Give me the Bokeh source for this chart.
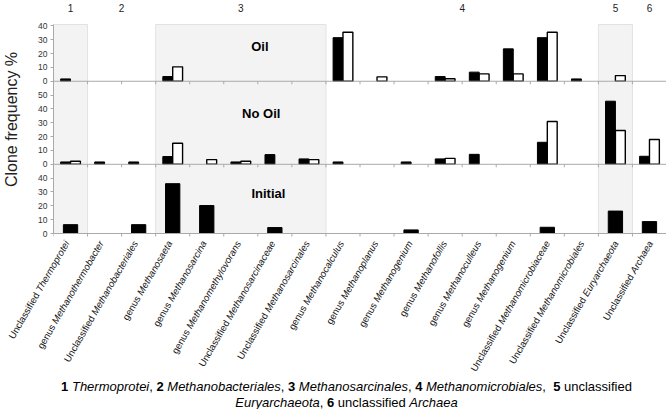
import math
from bokeh.plotting import figure
from bokeh.layouts import column
from bokeh.models import Range1d, FixedTicker, ColumnDataSource, Label, LabelSet, Span
from bokeh.core.properties import value
from bokeh.embed import file_html
from bokeh.resources import INLINE

# ---------------- data ----------------
categories = [
    "Unclassified Thermoprotei", "genus Methanothermobacter", "Unclassified Methanobacteriales",
    "genus Methanosaeta", "genus Methanosarcina", "genus Methanomethylovorans",
    "Unclassified Methanosarcinaceae", "Unclassified Methanosarcinales",
    "genus Methanocalculus", "genus Methanoplanus", "genus Methanogenium", "genus Methanofollis",
    "genus Methanoculleus", "genus Methanogenium", "Unclassified Methanomicrobiaceae",
    "Unclassified Methanomicrobiales", "Unclassified Euryarchaeota", "Unclassified Archaea",
]
oil_black = [1.7, 0, 0, 3.4, 0, 0, 0, 0, 31.5, 0, 0, 3.4, 6.6, 23.4, 31.5, 1.7, 0, 0]
oil_white = [0, 0, 0, 10.4, 0, 0, 0, 0, 35.4, 3.2, 0, 1.8, 5.3, 5.3, 35.4, 0, 4.1, 0]
nooil_black = [1.7, 1.7, 1.7, 5.6, 0, 1.7, 7.0, 3.9, 1.7, 0, 1.7, 3.9, 7.2, 0, 15.9, 0, 45.6, 5.8]
nooil_white = [2.2, 0, 0, 15.2, 3.4, 2.2, 0, 3.4, 0, 0, 0, 4.3, 0, 0, 30.9, 0, 24.4, 17.9]
initial = [6.4, 0, 6.4, 36.0, 20.2, 0, 4.3, 0, 0, 0, 2.6, 0, 0, 0, 4.5, 0, 16.2, 8.6]

group_labels = ["1", "2", "3", "4", "5", "6"]
group_start = [0, 1, 3, 8, 16, 17]
group_end = [1, 3, 8, 16, 17, 18]
shaded_groups = ["1", "3", "5"]

panel_names = ["Oil", "No Oil", "Initial"]
oil_ticks = [0, 10, 20, 30, 40]
nooil_ticks = [0, 10, 20, 30, 40, 50]
initial_ticks = [0, 10, 20, 30, 40]
y_title = "Clone frequency %"

caption_line1 = [("1", "bold"), (" ", "normal"), ("Thermoprotei", "italic"), (", ", "normal"),
                 ("2", "bold"), (" ", "normal"), ("Methanobacteriales", "italic"), (", ", "normal"),
                 ("3", "bold"), (" ", "normal"), ("Methanosarcinales", "italic"), (", ", "normal"),
                 ("4", "bold"), (" ", "normal"), ("Methanomicrobiales", "italic"), (",  ", "normal"),
                 ("5", "bold"), (" unclassified", "normal")]
caption_line2 = [("Euryarchaeota", "italic"), (", ", "normal"), ("6", "bold"),
                 (" unclassified ", "normal"), ("Archaea", "italic")]

# ---------------- layout / style ----------------
FONT = "Liberation Sans"
AX = "#a9a9a9"
N = len(categories)
WIDTH, HEIGHT = 666, 409
LEFT = 48
ZERO_PX = 233          # pixel row of the lowest panel's baseline
SPLIT_PX = 238         # where the label area starts
PXU = 1.384            # pixels per percentage unit
BASE = {"Initial": 0.0, "No Oil": 50.0, "Oil": 110.0}
PANEL_TOP = 151.0
PXX = (WIDTH - LEFT) / N

# Helvetica / Arial advance widths (per 1000 em)
W = {' ': 278, ',': 278, '.': 278, '%': 889}
W.update({d: 556 for d in "0123456789"})
W.update(dict(zip("ABCDEFGHIJKLMNOPQRSTUVWXYZ",
                  [667, 667, 722, 722, 667, 611, 778, 722, 278, 500, 667, 556, 833, 722, 778, 667,
                   778, 722, 667, 611, 722, 667, 944, 667, 667, 611])))
W.update(dict(zip("abcdefghijklmnopqrstuvwxyz",
                  [556, 556, 500, 556, 556, 278, 556, 556, 222, 222, 500, 222, 833, 556, 556, 556,
                   556, 333, 500, 278, 556, 500, 722, 500, 500, 500])))


def tw(s, fs):
    return sum(W.get(c, 556) for c in s) * fs / 1000.0


def clean(fig):
    fig.outline_line_color = None
    fig.xgrid.grid_line_color = None
    fig.ygrid.grid_line_color = None
    fig.background_fill_color = "white"
    fig.border_fill_color = "white"


p = figure(width=WIDTH, height=SPLIT_PX, x_range=Range1d(0, N),
           y_range=Range1d(-(SPLIT_PX - ZERO_PX) / PXU, ZERO_PX / PXU),
           output_backend="svg", toolbar_location=None, title=None, x_axis_location=None,
           min_border_left=LEFT, min_border_right=0, min_border_top=0, min_border_bottom=0,
           frame_align=False)
clean(p)

# shaded group regions
sl = [s for g, s in zip(group_labels, group_start) if g in shaded_groups]
sr = [e for g, e in zip(group_labels, group_end) if g in shaded_groups]
p.quad(left=sl, right=sr, bottom=0, top=PANEL_TOP, fill_color="#f3f3f3", line_color="#e2e2e2",
       line_width=1)

# bars
BW = 0.29
IW = 0.42


def bars(vals, base, offset, width, fill):
    xs, tops, bots = [], [], []
    for i, v in enumerate(vals):
        if v > 0:
            xs.append(i + 0.5 + offset)
            tops.append(base + v)
            bots.append(base)
    src = ColumnDataSource(dict(x=xs, top=tops, bottom=bots))
    p.vbar(x="x", top="top", bottom="bottom", width=width, source=src,
           fill_color=fill, line_color="black", line_width=1.4 if fill == "white" else 1)


bars(oil_black, BASE["Oil"], -BW / 2, BW, "black")
bars(oil_white, BASE["Oil"], BW / 2, BW, "white")
bars(nooil_black, BASE["No Oil"], -BW / 2, BW, "black")
bars(nooil_white, BASE["No Oil"], BW / 2, BW, "white")
bars(initial, BASE["Initial"], 0, IW, "black")

# category axes of the three panels (baseline + boundary ticks)
for name in ("Initial", "No Oil", "Oil"):
    b = BASE[name]
    p.add_layout(Span(location=b, dimension="width", line_color=AX, line_width=1))
    p.segment(x0=list(range(N + 1)), x1=list(range(N + 1)), y0=[b] * (N + 1),
              y1=[b - 3 / PXU] * (N + 1), line_color=AX, line_width=1)

# y axis
yt, overrides = [], {}
for name, ticks in (("Initial", initial_ticks), ("No Oil", nooil_ticks), ("Oil", oil_ticks)):
    for t in ticks:
        yt.append(BASE[name] + t)
        overrides[BASE[name] + t] = str(t)
yax = p.yaxis[0]
yax.ticker = FixedTicker(ticks=yt, minor_ticks=[])
yax.major_label_overrides = overrides
yax.bounds = (0, PANEL_TOP)
yax.axis_line_color = AX
yax.major_tick_line_color = AX
yax.major_tick_out = 3
yax.major_tick_in = 0
yax.minor_tick_line_color = None
yax.major_label_text_font = FONT
yax.major_label_text_font_size = "8.5px"
yax.major_label_text_color = "#333333"
yax.major_label_standoff = 3
yax.axis_label = y_title
yax.axis_label_text_font = FONT
yax.axis_label_text_font_size = "16px"
yax.axis_label_text_font_style = "normal"
yax.axis_label_text_color = "#222222"
yax.axis_label_standoff = 15

# panel names
panel_pos = {"Oil": (6.06, 135.1), "No Oil": (6.10, 86.7), "Initial": (6.31, 28.9)}
for name in panel_names:
    x, y = panel_pos[name]
    p.add_layout(Label(x=x, y=y, text=name, text_font=FONT, text_font_style="bold",
                       text_font_size="13px", text_align="center", text_baseline="middle",
                       text_color="black"))

# group numbers on top
gsrc = ColumnDataSource(dict(x=[(s + e) / 2 for s, e in zip(group_start, group_end)],
                             y=[PANEL_TOP] * len(group_labels), text=group_labels))
p.add_layout(LabelSet(x="x", y="y", text="text", source=gsrc, y_offset=17,
                      text_font=value(FONT), text_font_size=value("10px"),
                      text_align="center", text_baseline="middle",
                      text_color="#222222"))

# ---------------- label area (same data coordinates, full width) ----------------
q = figure(width=WIDTH, height=HEIGHT - SPLIT_PX, x_range=Range1d(-LEFT / PXX, N),
           y_range=Range1d(-(HEIGHT - ZERO_PX) / PXU, -(SPLIT_PX - ZERO_PX) / PXU),
           output_backend="svg", toolbar_location=None, title=None,
           x_axis_location=None, y_axis_location=None,
           min_border_left=0, min_border_right=0, min_border_top=0, min_border_bottom=0,
           frame_align=False)
clean(q)

# category labels (roman prefix + italic name), rotated 60 degrees
FS = 9.6
ang = math.pi / 3
rom, ita = zip(*[c.split(" ", 1) for c in categories])
D0 = 8
isrc = ColumnDataSource(dict(x=[i + 0.5 for i in range(N)], y=[0] * N, text=list(ita),
                             dx=[1] * N, dy=[-D0] * N))
L = [tw(t, FS) + tw(" ", FS) for t in ita]
rsrc = ColumnDataSource(dict(x=[i + 0.5 for i in range(N)], y=[0] * N, text=list(rom),
                             dx=[1 - l * math.cos(ang) for l in L],
                             dy=[-D0 - l * math.sin(ang) for l in L]))
for src, style in ((isrc, "italic"), (rsrc, "normal")):
    q.add_layout(LabelSet(x="x", y="y", text="text", source=src, x_offset="dx", y_offset="dy",
                          angle=ang, text_font=value(FONT), text_font_size=value(f"{FS}px"),
                          text_font_style=value(style), text_align="right",
                          text_baseline="middle", text_color="#111111"))

# caption
CFS = 13
CAP_CX = 346 - LEFT
for line, yoff in ((caption_line1, -(386 - ZERO_PX)), (caption_line2, -(402 - ZERO_PX))):
    total = sum(tw(s, CFS) for s, _ in line)
    cur = CAP_CX - total / 2
    for seg, style in line:
        lead = len(seg) - len(seg.lstrip())
        txt = seg.strip()
        if txt:
            q.add_layout(Label(x=0, y=0, x_offset=cur + tw(seg[:lead], CFS), y_offset=yoff,
                               text=txt, text_font=FONT, text_font_size=f"{CFS}px",
                               text_font_style=style, text_align="left", text_baseline="middle",
                               text_color="black"))
        cur += tw(seg, CFS)

layout = column(p, q, spacing=0)
open("out.html", "w").write(file_html(layout, INLINE))
